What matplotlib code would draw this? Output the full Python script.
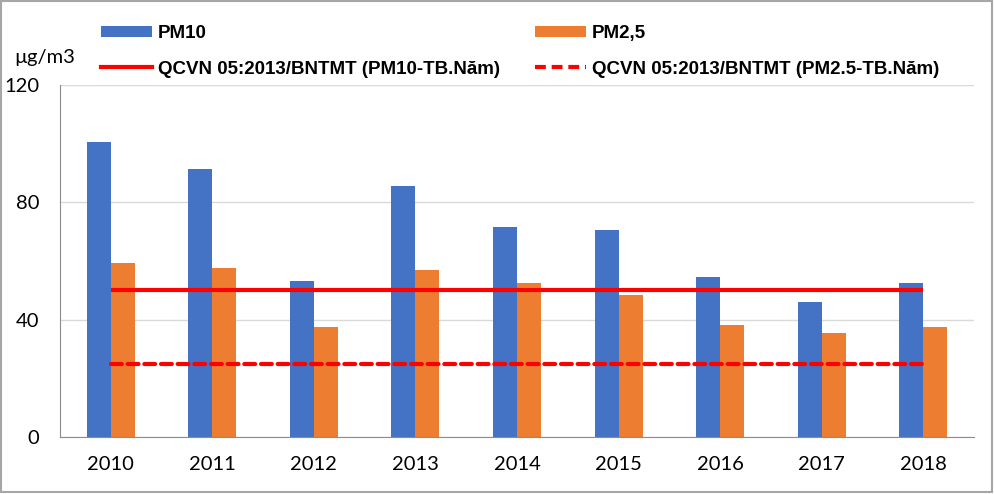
#!/usr/bin/env python3
# -*- coding: utf-8 -*-
"""PM10 / PM2,5 yearly averages vs QCVN 05:2013/BNTMT limits."""

import matplotlib
matplotlib.use("Agg")
import matplotlib.pyplot as plt
import numpy as np
from matplotlib.lines import Line2D
from matplotlib.patches import Patch, Rectangle

years = ["2010", "2011", "2012", "2013", "2014", "2015", "2016", "2017", "2018"]
pm10 = [100.6, 91.4, 53.2, 85.6, 71.6, 70.6, 54.6, 46.1, 52.5]
pm25 = [59.4, 57.7, 37.5, 57.0, 52.5, 48.4, 38.2, 35.5, 37.5]
limit_pm10 = [50] * len(years)
limit_pm25 = [25] * len(years)
yticks = [0, 40, 80, 120]

BLUE = "#4472C4"
ORANGE = "#ED7D31"
RED = "#FF0000"

plt.rcParams["font.family"] = ["Lato", "DejaVu Sans"]

fig = plt.figure(figsize=(9.95, 4.94), dpi=100)
ax = fig.add_axes([60 / 995, 57 / 494, (974 - 60) / 995, (437 - 85) / 494])

x = np.arange(len(years))
w = 0.236
ax.bar(x - w / 2, pm10, width=w, color=BLUE, zorder=2)
ax.bar(x + w / 2, pm25, width=w, color=ORANGE, zorder=2)
ax.plot(x, limit_pm10, color=RED, lw=3, zorder=3, solid_capstyle="butt")
ax.plot(x, limit_pm25, color=RED, lw=3, ls=(0, (2.6, 1.4)), zorder=3,
        dash_capstyle="round")

ax.set_xlim(-0.5, len(years) - 0.5)
ax.set_ylim(0, 120)
ax.set_yticks(yticks)
ax.set_xticks(x)
ax.set_xticklabels(years)
ax.tick_params(axis="both", length=0, labelsize=14.5, colors="black")
ax.tick_params(axis="x", pad=14)
ax.tick_params(axis="y", pad=15)

ax.grid(axis="y", color="#d9d9d9", lw=1, zorder=0)
for side in ["top", "right"]:
    ax.spines[side].set_visible(False)
ax.spines["left"].set_color("#8c8c8c")
ax.spines["bottom"].set_color("#8c8c8c")

fig.text(45 / 995, 1 - 57 / 494, "µg/m3", fontsize=14.5, ha="center", va="center")

handles = [
    Patch(facecolor=BLUE),
    Line2D([0], [0], color=RED, lw=3),
    Patch(facecolor=ORANGE),
    Line2D([0], [0], color=RED, lw=3, ls=(0, (2.6, 1.4))),
]
labels = [
    "PM10",
    "QCVN 05:2013/BNTMT (PM10-TB.Năm)",
    "PM2,5",
    "QCVN 05:2013/BNTMT (PM2.5-TB.Năm)",
]
fig.legend(handles, labels, ncol=2, frameon=False,
           loc="upper left", bbox_to_anchor=(84 / 995, 1 - 8 / 494),
           prop={"family": "Liberation Sans", "weight": "bold", "size": 13.5},
           handlelength=2.75, handleheight=0.55, handletextpad=0.3,
           columnspacing=1.85, labelspacing=1.0)

fig.patches.append(Rectangle((0.001, 0.004), 0.996, 0.994, transform=fig.transFigure,
                             fill=False, edgecolor="#a6a6a6", lw=1.5))

fig.savefig("out.png", dpi=100)
